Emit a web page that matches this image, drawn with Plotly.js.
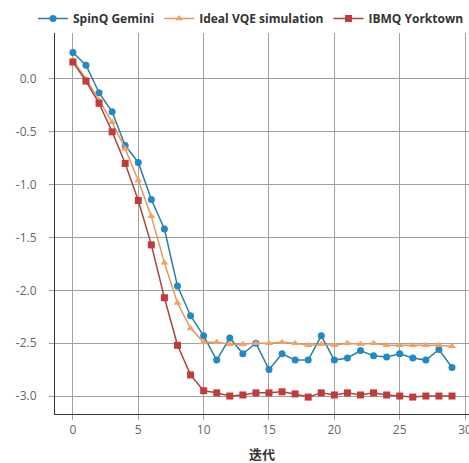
<!DOCTYPE html>
<html>
<head>
<meta charset="utf-8">
<script src="https://cdn.plot.ly/plotly-3.0.1.min.js"></script>
<style>html,body{margin:0;padding:0;background:#fff;} #chart{width:469px;height:463px;}</style>
</head>
<body>
<div id="chart"></div>
<script>
const iterations = [0,1,2,3,4,5,6,7,8,9,10,11,12,13,14,15,16,17,18,19,20,21,22,23,24,25,26,27,28,29];
const spinqGemini = [0.25,0.13,-0.13,-0.31,-0.63,-0.79,-1.14,-1.42,-1.96,-2.24,-2.43,-2.66,-2.45,-2.60,-2.50,-2.75,-2.60,-2.66,-2.66,-2.43,-2.66,-2.64,-2.57,-2.62,-2.63,-2.60,-2.64,-2.66,-2.56,-2.73];
const idealVQE = [0.18,0.0,-0.20,-0.41,-0.66,-0.96,-1.30,-1.74,-2.12,-2.36,-2.49,-2.49,-2.51,-2.51,-2.50,-2.50,-2.49,-2.50,-2.52,-2.51,-2.52,-2.50,-2.51,-2.50,-2.52,-2.52,-2.52,-2.52,-2.52,-2.53];
const ibmqYorktown = [0.16,-0.02,-0.23,-0.50,-0.80,-1.15,-1.57,-2.07,-2.52,-2.80,-2.95,-2.97,-3.00,-2.99,-2.97,-2.97,-2.96,-2.98,-3.01,-2.97,-2.99,-2.97,-2.99,-2.97,-2.99,-3.00,-3.01,-3.00,-3.00,-3.00];
const seriesNames = ["SpinQ Gemini","Ideal VQE simulation","IBMQ Yorktown"];
const yTickVals = [0,-0.5,-1,-1.5,-2,-2.5,-3];
const yTickText = ["0.0","-0.5","-1.0","-1.5","-2.0","-2.5","-3.0"];
const xTickVals = [0,5,10,15,20,25,30];
const xTitle = "迭代";

const traces = [
  {x: iterations, y: spinqGemini, name: seriesNames[0], mode: "lines+markers",
   line: {color: "#2b7f9c", width: 1.5}, marker: {symbol: "circle", size: 7, color: "#1f8ac6"}},
  {x: iterations, y: idealVQE, name: seriesNames[1], mode: "lines+markers",
   line: {color: "#e8965c", width: 1.5}, marker: {symbol: "triangle-up", size: 7, color: "#f2a263"}},
  {x: iterations, y: ibmqYorktown, name: seriesNames[2], mode: "lines+markers",
   line: {color: "#a8453f", width: 1.5}, marker: {symbol: "square", size: 7, color: "#c23b3b"}}
];

const layout = {
  width: 469, height: 463,
  margin: {l: 55, r: 0, t: 33, b: 49},
  paper_bgcolor: "#fff", plot_bgcolor: "#fff",
  font: {family: "Open Sans, Noto Sans, sans-serif", size: 12, color: "#555"},
  showlegend: true,
  legend: {orientation: "h", x: -0.025, xanchor: "left", y: 1.0, yanchor: "bottom",
    font: {size: 12, color: "#333", weight: "bold"}, itemwidth: 30, tracegroupgap: 0},
  xaxis: {range: [-1.37, 30.3], tickvals: xTickVals, showgrid: true, gridcolor: "#a0a0a0", gridwidth: 1,
    zeroline: false, showline: true, linecolor: "#333", linewidth: 1, mirror: true,
    ticks: "outside", ticklen: 5, tickcolor: "#a0a0a0", tickfont: {size: 12, color: "#666"},
    ticklabeloverflow: "allow",
    title: {text: xTitle, font: {family: "Noto Sans CJK SC", size: 13, color: "#333", weight: "bold"}, standoff: 14}},
  yaxis: {range: [-3.17, 0.435], tickvals: yTickVals, ticktext: yTickText, showgrid: true, gridcolor: "#a0a0a0", gridwidth: 1,
    zeroline: false, showline: true, linecolor: "#333", linewidth: 1, mirror: false,
    ticks: "outside", ticklen: 5, tickcolor: "#a0a0a0", tickfont: {size: 12, color: "#666"}, ticklabelstandoff: 10}
};

Plotly.newPlot("chart", traces, layout, {displayModeBar: false, staticPlot: true});
</script>
</body>
</html>
